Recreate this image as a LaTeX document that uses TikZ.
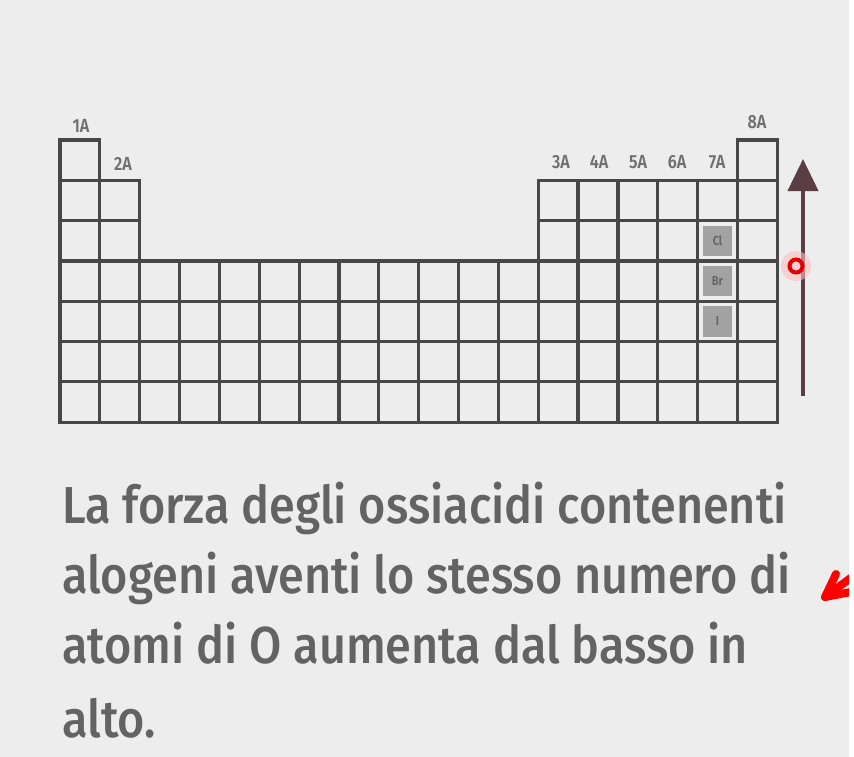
\documentclass[tikz,border=0pt]{standalone}
\usepackage{fontspec}
\usetikzlibrary{arrows.meta}
\newfontfamily\capfont[FakeStretch=0.9]{Fira Sans Medium}
\newfontfamily\labfont[FakeStretch=0.85]{Fira Sans SemiBold}
\definecolor{bg}{HTML}{EDEDEE}
\definecolor{gridc}{HTML}{474747}
\definecolor{txtc}{HTML}{636363}
\definecolor{labc}{HTML}{707070}
\definecolor{cellg}{HTML}{A2A2A2}
\definecolor{arrc}{HTML}{5A3E44}
\tikzset{
  cell/.style={draw=gridc, line width=3.2pt},
  grp/.style={font=\labfont\fontsize{19}{19}\selectfont, text=labc, inner sep=0pt, anchor=base},
  body/.style={font=\capfont\fontsize{52}{52}\selectfont, text=txtc, inner sep=0pt, anchor=base west},
  hal/.style={font=\labfont\fontsize{13}{13}\selectfont, text=gridc!85, inner sep=0pt},
  cursor/.style={draw=red, line width=8pt, line cap=round, line join=round},
}
\begin{document}
\begin{tikzpicture}[x=1pt,y=-1pt]
\fill[bg] (0,0) rectangle (854,757);
\fill[white] (849,0) rectangle (854,757);
\useasboundingbox (0,0) rectangle (854,757);
\def\cw{39.85}
\def\rh{40.3}
\def\xo{60}
\def\yo{140}
% halogen highlight cells
\foreach \r/\t/\n in {3/Cl/cl,4/Br/br,5/I/io}{
  \fill[cellg] ({\xo+16*\cw+5},{\yo+(\r-1)*\rh+5}) rectangle ({\xo+17*\cw-5},{\yo+\r*\rh-5});
  \node[hal] (\n) at ({\xo+16.5*\cw},{\yo+(\r-0.5)*\rh}) {\t};
}
% grid cells
\foreach \c in {1,18}{
  \draw[cell] ({\xo+(\c-1)*\cw},{\yo}) rectangle ({\xo+\c*\cw},{\yo+\rh});
}
\foreach \r in {2,3}{
  \foreach \c in {1,2,13,14,15,16,17,18}{
    \draw[cell] ({\xo+(\c-1)*\cw},{\yo+(\r-1)*\rh}) rectangle ({\xo+\c*\cw},{\yo+\r*\rh});
  }
}
\foreach \r in {4,...,7}{
  \foreach \c in {1,...,18}{
    \draw[cell] ({\xo+(\c-1)*\cw},{\yo+(\r-1)*\rh}) rectangle ({\xo+\c*\cw},{\yo+\r*\rh});
  }
}
% group labels
\node[grp] (g1) at (81,133) {1A};
\node[grp] (g2) at (123,170) {2A};
\node[grp] (g3) at (561,168) {3A};
\node[grp] (g4) at (599,168) {4A};
\node[grp] (g5) at (638,168) {5A};
\node[grp] (g6) at (677,168) {6A};
\node[grp] (g7) at (717,168) {7A};
\node[grp] (g8) at (757,129) {8A};
% arrow
\coordinate (abot) at (803,396);
\coordinate (atop) at (803,159);
\draw[arrc, line width=4pt, -{Triangle[length=32pt,width=30pt]}] (abot) -- (atop);
% red marker
\fill[red!25, opacity=0.6] (796,266) circle (15);
\draw[red!90!black, line width=4pt] (796,266) coordinate (mk) circle (6.5);
% body text
\node[body] (l1) at (62,523) {La forza degli ossiacidi contenenti};
\node[body] (l2) at (62,593) {alogeni aventi lo stesso numero di};
\node[body] (l3) at (62,663) {atomi di O aumenta dal basso in};
\node[body] (l4) at (62,737) {alto.};
% red cursor arrow
\begin{scope}
\clip (0,0) rectangle (849,757);
\coordinate (rtip) at (825,597);
\coordinate (rtail) at (875,560);
\draw[cursor] (836,574) -- (rtip) -- (856,591);
\draw[cursor] (rtip) -- (rtail);
\end{scope}
\end{tikzpicture}
\end{document}
